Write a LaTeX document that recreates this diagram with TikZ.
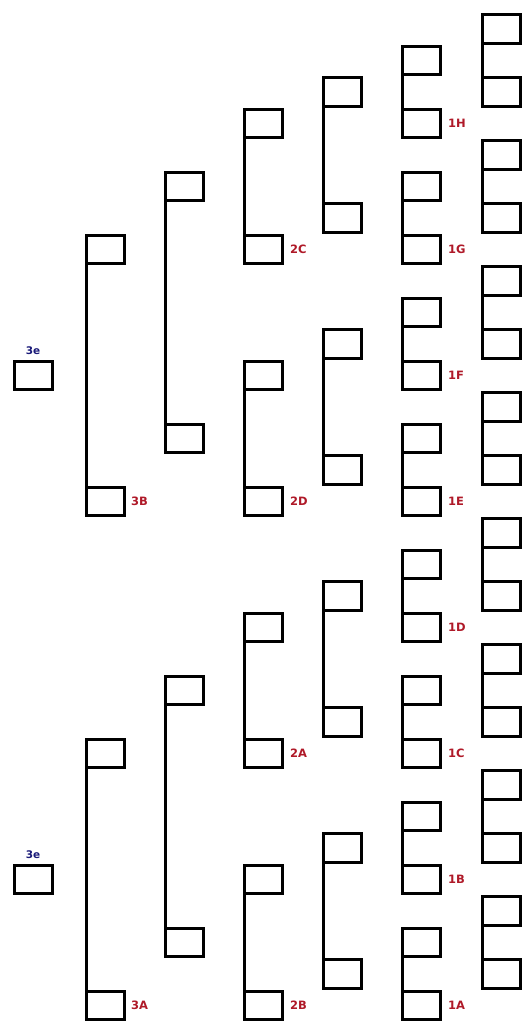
\documentclass[tikz,border=0pt]{standalone}
\usepackage{fontspec}
\usetikzlibrary{positioning}
\newfontfamily\labfont{DejaVu Sans}
\definecolor{seedred}{RGB}{175,25,40}
\definecolor{extrablue}{RGB}{25,25,120}

\begin{document}
\begin{tikzpicture}[
        x=1pt, y=-31.5pt,
        box/.style={rectangle, draw, line width=3pt, minimum width=38pt, minimum height=28.5pt, inner sep=0pt, outer sep=0pt},
        bar/.style={line width=3pt},
        seed/.style={font=\labfont\bfseries\fontsize{11.5}{12}\selectfont, text=seedred, inner sep=1pt},
        extra/.style={font=\labfont\bfseries\fontsize{10.5}{11}\selectfont, text=extrablue, inner sep=1pt},
        node distance=7pt
    ]
    \useasboundingbox (0,-0.913) rectangle (529,31.595);

    % Column 6 (outer pairs)
    \node[box] (col6-1) at (501,0) {};   \node[box] (col6-2) at (501,2) {};
    \node[box] (col6-3) at (501,4) {};   \node[box] (col6-4) at (501,6) {};
    \node[box] (col6-5) at (501,8) {};   \node[box] (col6-6) at (501,10) {};
    \node[box] (col6-7) at (501,12) {};  \node[box] (col6-8) at (501,14) {};
    \node[box] (col6-9) at (501,16) {};  \node[box] (col6-10) at (501,18) {};
    \node[box] (col6-11) at (501,20) {}; \node[box] (col6-12) at (501,22) {};
    \node[box] (col6-13) at (501,24) {}; \node[box] (col6-14) at (501,26) {};
    \node[box] (col6-15) at (501,28) {}; \node[box] (col6-16) at (501,30) {};

    % Column 5 (1A - 1H)
    \node[box] (col5-1) at (421,1) {};   \node[box] (col5-2) at (421,3) {};
    \node[box] (col5-3) at (421,5) {};   \node[box] (col5-4) at (421,7) {};
    \node[box] (col5-5) at (421,9) {};   \node[box] (col5-6) at (421,11) {};
    \node[box] (col5-7) at (421,13) {};  \node[box] (col5-8) at (421,15) {};
    \node[box] (col5-9) at (421,17) {};  \node[box] (col5-10) at (421,19) {};
    \node[box] (col5-11) at (421,21) {}; \node[box] (col5-12) at (421,23) {};
    \node[box] (col5-13) at (421,25) {}; \node[box] (col5-14) at (421,27) {};
    \node[box] (col5-15) at (421,29) {}; \node[box] (col5-16) at (421,31) {};

    % Column 4
    \node[box] (col4-1) at (342,2) {};  \node[box] (col4-2) at (342,6) {};
    \node[box] (col4-3) at (342,10) {}; \node[box] (col4-4) at (342,14) {};
    \node[box] (col4-5) at (342,18) {}; \node[box] (col4-6) at (342,22) {};
    \node[box] (col4-7) at (342,26) {}; \node[box] (col4-8) at (342,30) {};

    % Column 3 (2A - 2D)
    \node[box] (col3-1) at (263,3) {};  \node[box] (col3-2) at (263,7) {};
    \node[box] (col3-3) at (263,11) {}; \node[box] (col3-4) at (263,15) {};
    \node[box] (col3-5) at (263,19) {}; \node[box] (col3-6) at (263,23) {};
    \node[box] (col3-7) at (263,27) {}; \node[box] (col3-8) at (263,31) {};

    % Column 2
    \node[box] (col2-1) at (184,5) {};  \node[box] (col2-2) at (184,13) {};
    \node[box] (col2-3) at (184,21) {}; \node[box] (col2-4) at (184,29) {};

    % Column 1 (3A - 3B)
    \node[box] (col1-1) at (105,7) {};  \node[box] (col1-2) at (105,15) {};
    \node[box] (col1-3) at (105,23) {}; \node[box] (col1-4) at (105,31) {};

    % Boxes 3e
    \node[box] (third-1) at (33,11) {};
    \node[box] (third-2) at (33,27) {};

    % Brackets
    \draw[bar] (col6-1.south west) -- (col6-2.north west);
    \draw[bar] (col6-3.south west) -- (col6-4.north west);
    \draw[bar] (col6-5.south west) -- (col6-6.north west);
    \draw[bar] (col6-7.south west) -- (col6-8.north west);
    \draw[bar] (col6-9.south west) -- (col6-10.north west);
    \draw[bar] (col6-11.south west) -- (col6-12.north west);
    \draw[bar] (col6-13.south west) -- (col6-14.north west);
    \draw[bar] (col6-15.south west) -- (col6-16.north west);
    \draw[bar] (col5-1.south west) -- (col5-2.north west);
    \draw[bar] (col5-3.south west) -- (col5-4.north west);
    \draw[bar] (col5-5.south west) -- (col5-6.north west);
    \draw[bar] (col5-7.south west) -- (col5-8.north west);
    \draw[bar] (col5-9.south west) -- (col5-10.north west);
    \draw[bar] (col5-11.south west) -- (col5-12.north west);
    \draw[bar] (col5-13.south west) -- (col5-14.north west);
    \draw[bar] (col5-15.south west) -- (col5-16.north west);
    \draw[bar] (col4-1.south west) -- (col4-2.north west);
    \draw[bar] (col4-3.south west) -- (col4-4.north west);
    \draw[bar] (col4-5.south west) -- (col4-6.north west);
    \draw[bar] (col4-7.south west) -- (col4-8.north west);
    \draw[bar] (col3-1.south west) -- (col3-2.north west);
    \draw[bar] (col3-3.south west) -- (col3-4.north west);
    \draw[bar] (col3-5.south west) -- (col3-6.north west);
    \draw[bar] (col3-7.south west) -- (col3-8.north west);
    \draw[bar] (col2-1.south west) -- (col2-2.north west);
    \draw[bar] (col2-3.south west) -- (col2-4.north west);
    \draw[bar] (col1-1.south west) -- (col1-2.north west);
    \draw[bar] (col1-3.south west) -- (col1-4.north west);

    % Labels
    \node[seed, right=of col5-2] (l1h) {1H};
    \node[seed, right=of col5-4] (l1g) {1G};
    \node[seed, right=of col5-6] (l1f) {1F};
    \node[seed, right=of col5-8] (l1e) {1E};
    \node[seed, right=of col5-10] (l1d) {1D};
    \node[seed, right=of col5-12] (l1c) {1C};
    \node[seed, right=of col5-14] (l1b) {1B};
    \node[seed, right=of col5-16] (l1a) {1A};
    \node[seed, right=of col3-2] (l2c) {2C};
    \node[seed, right=of col3-4] (l2d) {2D};
    \node[seed, right=of col3-6] (l2a) {2A};
    \node[seed, right=of col3-8] (l2b) {2B};
    \node[seed, right=6pt of col1-2] (l3b) {3B};
    \node[seed, right=6pt of col1-4] (l3a) {3A};
    \node[extra, above=5pt of third-1] (l3e1) {3e};
    \node[extra, above=5pt of third-2] (l3e2) {3e};

\end{tikzpicture}
\end{document}
